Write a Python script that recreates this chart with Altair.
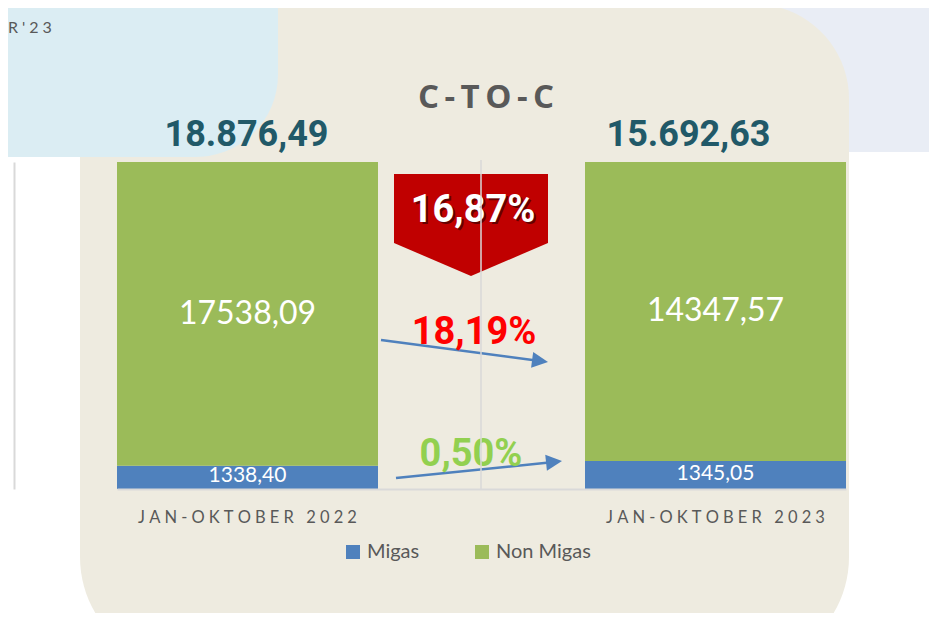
import altair as alt
import pandas as pd

# ---- data ----
categories = ["JAN-OKTOBER 2022", "JAN-OKTOBER 2023"]
series = ["Migas", "Non Migas"]
migas = [1338.40, 1345.05]
non_migas = [17538.09, 14347.57]
totals = [18876.49, 15692.63]
colors = ["#4F81BD", "#9BBB59"]

chart_title = "C-TO-C"
corner_text = "R'23"

NARROW = "Liberation Sans Narrow, Roboto, sans-serif"
SP = "\u2005"


def id_fmt(v, thousands=True):
    s = f"{v:,.2f}" if thousands else f"{v:.2f}"
    return s.replace(",", "X").replace(".", ",").replace("X", ".")


rows = []
for i, cat in enumerate(categories):
    tot = migas[i] + non_migas[i]
    rows.append({"period": cat, "series": "Migas", "value": migas[i], "order": 0,
                 "mid": migas[i] / 2 / tot, "label": id_fmt(migas[i], False)})
    rows.append({"period": cat, "series": "Non Migas", "value": non_migas[i], "order": 1,
                 "mid": (migas[i] + non_migas[i] / 2) / tot, "label": id_fmt(non_migas[i], False)})
df = pd.DataFrame(rows)

tot_df = pd.DataFrame({"period": categories, "label": [id_fmt(t) for t in totals]})

pct_total = (totals[0] - totals[1]) / totals[0] * 100
pct_non = (non_migas[0] - non_migas[1]) / non_migas[0] * 100
pct_migas = (migas[1] - migas[0]) / migas[0] * 100
pct_total_s = f"{pct_total:.2f}".replace(".", ",") + "%"
pct_non_s = f"{pct_non:.2f}".replace(".", ",") + "%"
pct_migas_s = f"{pct_migas:.2f}".replace(".", ",") + "%"

# letter-spaced axis labels (display only)
label_expr = " : ".join(
    f"datum.label == '{c}' ? '{SP.join(c)}'" for c in categories
) + " : datum.label"

one = alt.Data(values=[{"k": 1}])

xscale = alt.Scale(domain=categories, range=[103, 832], paddingInner=0.4423, paddingOuter=0)

# ---- decorative background shapes ----
lavender = alt.Chart(one).mark_rect(color="#E9EDF5").encode(
    x=alt.value(678), x2=alt.value(930), y=alt.value(-170), y2=alt.value(-10))
beige = alt.Chart(one).mark_rect(
    color="#EEEBE0", cornerRadiusTopRight=95, cornerRadiusBottomLeft=110,
    cornerRadiusTopLeft=0, cornerRadiusBottomRight=110
).encode(x=alt.value(66), x2=alt.value(835), y=alt.value(-158), y2=alt.value(505))
blue_bg = alt.Chart(one).mark_rect(color="#DBEDF3", cornerRadiusBottomRight=100).encode(
    x=alt.value(-20), x2=alt.value(264), y=alt.value(-170), y2=alt.value(-5))
corner = alt.Chart(one).mark_text(
    text=SP.join(corner_text), font="Lato", fontSize=16, color="#595959",
    align="left", baseline="middle"
).encode(x=alt.value(-6), y=alt.value(-134))

# ---- bars ----
bars = alt.Chart(df).mark_bar().encode(
    x=alt.X("period:N", scale=xscale, sort=categories, title=None,
            axis=alt.Axis(labelAngle=0, ticks=False, grid=False, zindex=1,
                          domainColor="#D9D9D9", domainWidth=2,
                          labelFont="Lato", labelFontSize=16.5, labelColor="#595959",
                          labelPadding=20, labelLimit=0, labelExpr=label_expr)),
    y=alt.Y("value:Q", stack="normalize",
            axis=alt.Axis(labels=False, ticks=False, grid=False, title=None, zindex=1,
                          domainColor="#D9D9D9", domainWidth=2)),
    color=alt.Color("series:N", scale=alt.Scale(domain=series, range=colors),
                    legend=alt.Legend(orient="none", legendX=329, legendY=380,
                                      direction="horizontal", title=None,
                                      symbolType="square", symbolSize=196,
                                      symbolStrokeWidth=0, labelFont="Lato",
                                      labelFontSize=20, labelColor="#595959",
                                      columnPadding=52, labelOffset=4, padding=0,
                                      zindex=1)),
    order=alt.Order("order:Q"),
)

big_labels = alt.Chart(df).transform_filter(alt.datum.series == "Non Migas").mark_text(
    font="Lato", fontSize=32, color="white", baseline="middle"
).encode(
    x=alt.X("period:N", scale=xscale, sort=categories),
    y=alt.Y("mid:Q"),
    text="label:N",
)
small_labels = alt.Chart(df).transform_filter(alt.datum.series == "Migas").mark_text(
    font="Lato", fontSize=21, color="white", baseline="middle", dy=-1
).encode(
    x=alt.X("period:N", scale=xscale, sort=categories),
    y=alt.Y("mid:Q"),
    text="label:N",
)

tot1 = alt.Chart(tot_df).transform_filter(alt.datum.period == categories[0]).mark_text(
    font=NARROW, fontWeight="bold", fontSize=36, color="#215968", baseline="middle", dx=-1
).encode(x=alt.X("period:N", scale=xscale, sort=categories),
         y=alt.value(-27), text="label:N")
tot2 = alt.Chart(tot_df).transform_filter(alt.datum.period == categories[1]).mark_text(
    font=NARROW, fontWeight="bold", fontSize=36, color="#215968", baseline="middle", dx=-27
).encode(x=alt.X("period:N", scale=xscale, sort=categories),
         y=alt.value(-27), text="label:N")

title_txt = alt.Chart(one).mark_text(
    text="\u2006".join(chart_title), font="Open Sans", fontWeight="bold", fontSize=33,
    color="#595959", baseline="middle"
).encode(x=alt.value(472), y=alt.value(-64))

# ---- annotations ----
pentagon = alt.Chart(one).mark_point(
    shape="M-1,-0.662L1,-0.662L1,0.234L0,0.662L-1,0.234Z", size=23716,
    filled=True, color="#C00000", opacity=1, strokeWidth=0
).encode(x=alt.value(457), y=alt.value(63))
pct_shadow = alt.Chart(one).mark_text(
    text=pct_total_s, font=NARROW, fontWeight="bold", fontSize=38, color="#400000",
    opacity=0.7, baseline="middle", dx=2, dy=2
).encode(x=alt.value(459), y=alt.value(49))
pct_main = alt.Chart(one).mark_text(
    text=pct_total_s, font=NARROW, fontWeight="bold", fontSize=38, color="white",
    baseline="middle"
).encode(x=alt.value(459), y=alt.value(49))

arrow1 = alt.Chart(one).mark_rule(color="#4F81BD", strokeWidth=2.5).encode(
    x=alt.value(367), y=alt.value(178), x2=alt.value(526), y2=alt.value(199))
head1 = alt.Chart(one).mark_point(
    shape="M0,0L-2,-1L-2,1Z", size=256, filled=True, color="#4F81BD", opacity=1,
    strokeWidth=0, angle=7.5
).encode(x=alt.value(534), y=alt.value(200))
arrow2 = alt.Chart(one).mark_rule(color="#4F81BD", strokeWidth=2.5).encode(
    x=alt.value(382), y=alt.value(316), x2=alt.value(540), y2=alt.value(300))
head2 = alt.Chart(one).mark_point(
    shape="M0,0L-2,-1L-2,1Z", size=256, filled=True, color="#4F81BD", opacity=1,
    strokeWidth=0, angle=354
).encode(x=alt.value(548), y=alt.value(299))

pct_non_txt = alt.Chart(one).mark_text(
    text=pct_non_s, font=NARROW, fontWeight="bold", fontSize=38, color="#FF0000",
    baseline="middle"
).encode(x=alt.value(460), y=alt.value(171))
pct_migas_txt = alt.Chart(one).mark_text(
    text=pct_migas_s, font=NARROW, fontWeight="bold", fontSize=38, color="#92D050",
    baseline="middle"
).encode(x=alt.value(457), y=alt.value(293))

divider = alt.Chart(one).mark_rule(color="#D9D9D9", strokeWidth=1.5).encode(
    x=alt.value(467), y=alt.value(-2), y2=alt.value(327))

chart = alt.layer(
    lavender, beige, blue_bg, corner,
    bars, big_labels, small_labels, tot1, tot2, title_txt,
    pentagon, pct_shadow, pct_main,
    arrow1, head1, arrow2, head2, pct_non_txt, pct_migas_txt,
    divider,
).properties(
    width=915, height=327, background="white",
    autosize=alt.AutoSizeParams(type="none"),
    padding={"left": 6, "top": 154, "right": 0, "bottom": 124},
).configure_view(stroke=None).configure_axis(grid=False)

chart.save("out.html", embed_options={"renderer": "svg", "actions": False})
